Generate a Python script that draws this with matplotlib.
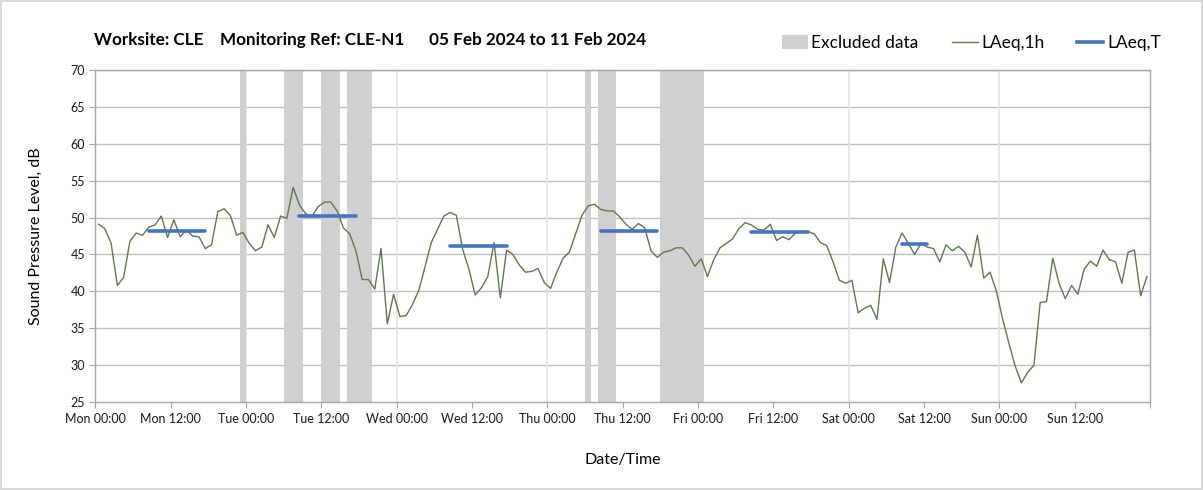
import numpy as np
import matplotlib
matplotlib.use("Agg")
import matplotlib.pyplot as plt
from matplotlib.patches import Patch
from matplotlib.lines import Line2D

# hourly LAeq,1h values, Mon 00:00 .. Sun 23:00
laeq_1h = [
    49.1, 48.5, 46.5, 40.8, 41.9, 46.8, 47.9, 47.6, 48.7, 49.0,
    50.2, 47.3, 49.7, 47.4, 48.3, 47.5, 47.4, 45.8, 46.3, 50.8,
    51.2, 50.3, 47.6, 48.0, 46.5, 45.5, 46.0, 49.0, 47.3, 50.2,
    49.9, 54.1, 51.7, 50.5, 50.2, 51.5, 52.1, 52.1, 50.9, 48.6,
    47.8, 45.5, 41.6, 41.6, 40.3, 45.8, 35.6, 39.6, 36.6, 36.7,
    38.2, 40.1, 43.3, 46.6, 48.4, 50.2, 50.7, 50.3, 45.7, 43.0,
    39.5, 40.5, 42.0, 46.6, 39.1, 45.6, 45.0, 43.6, 42.6, 42.7,
    43.1, 41.2, 40.4, 42.6, 44.5, 45.3, 47.8, 50.3, 51.6, 51.8,
    51.1, 50.9, 50.9, 50.1, 49.1, 48.4, 49.2, 48.6, 45.5, 44.6,
    45.3, 45.5, 45.9, 45.9, 44.9, 43.4, 44.4, 42.0, 44.3, 45.9,
    46.5, 47.1, 48.5, 49.3, 49.0, 48.4, 48.3, 49.1, 46.9, 47.4,
    47.0, 47.9, 48.1, 48.1, 47.8, 46.6, 46.2, 44.0, 41.5, 41.1,
    41.5, 37.1, 37.7, 38.1, 36.2, 44.4, 41.2, 46.0, 47.9, 46.5,
    45.0, 46.5, 46.0, 45.8, 44.0, 46.3, 45.5, 46.1, 45.3, 43.3,
    47.6, 41.8, 42.6, 40.1, 36.3, 33.0, 29.9, 27.6, 29.0, 30.0,
    38.5, 38.6, 44.5, 41.1, 39.0, 40.8, 39.6, 43.0, 44.1, 43.4,
    45.6, 44.3, 44.0, 41.1, 45.3, 45.6, 39.4, 42.0,
]

# excluded periods (hours from Mon 00:00)
excl_start = [23, 30, 36, 40, 78, 80, 90]
excl_end = [24, 33, 39, 44, 79, 83, 97]

# daytime LAeq,T periods (first and last hour index) and level
laeqt_first = [8, 32, 56, 80, 104, 128]
laeqt_last = [17, 41, 65, 89, 113, 132]
laeqt_value = [48.2, 50.2, 46.1, 48.2, 48.1, 46.4]

days = ["Mon", "Tue", "Wed", "Thu", "Fri", "Sat", "Sun"]

plt.rcParams['font.family'] = ['Lato', 'DejaVu Sans']

fig = plt.figure(figsize=(12.03, 4.9), dpi=100)
fig.patch.set_edgecolor("#D9D9D9")
fig.patch.set_linewidth(1.5)
ax = fig.add_axes([0.0793, 0.1796, 0.8767, 0.6775])

green = "#5E7A4C"
blue = "#4472C4"
grey = "#D0D0D0"

for s, e in zip(excl_start, excl_end):
    ax.axvspan(s, e, color=grey, lw=0, zorder=1)

hours = np.arange(len(laeq_1h)) + 0.5
ax.plot(hours, laeq_1h, color=green, lw=1.0, zorder=3)

for f, l, v in zip(laeqt_first, laeqt_last, laeqt_value):
    ax.plot([f + 0.5, l + 0.5], [v, v], color=blue, lw=2.6,
            solid_capstyle="round", zorder=4)

ax.set_xlim(0, 168)
ax.set_ylim(25, 70)
ax.set_yticks(np.arange(25, 71, 5))
ax.set_xticks(np.arange(0, 169, 12))
labels = []
for d in days:
    labels += [d + " 00:00", d + " 12:00"]
labels.append("")
ax.set_xticklabels(labels)

# gridlines: horizontal every 5 dB, vertical at midnight
for y in np.arange(30, 71, 5):
    ax.axhline(y, color="#BFBFBF", lw=1.0, zorder=0)
for x in range(24, 168, 24):
    ax.axvline(x, color="#E3E3E3", lw=1.2, zorder=0)

for sp in ax.spines.values():
    sp.set_color("#A6A6A6")
    sp.set_linewidth(1.0)
ax.tick_params(axis="both", colors="#A6A6A6", labelcolor="#1A1A1A",
               labelsize=9, length=4, direction="out")
ax.tick_params(axis="x", pad=4)

ax.set_ylabel("Sound Pressure Level, dB", fontsize=11.5, labelpad=20)
ax.set_xlabel("Date/Time", fontsize=11.5, labelpad=20)

fig.text(0.078, 0.918,
         "Worksite: CLE    Monitoring Ref: CLE-N1      05 Feb 2024 to 11 Feb 2024",
         fontsize=12.3, fontweight="bold", va="center", ha="left")

handles = [Patch(facecolor=grey, edgecolor="none", label="Excluded data"),
           Line2D([], [], color=green, lw=1.0, label="LAeq,1h"),
           Line2D([], [], color=blue, lw=2.6, label="LAeq,T")]
fig.legend(handles=handles, loc="center right", bbox_to_anchor=(0.972, 0.912),
           ncol=3, frameon=False, fontsize=12.5, handlelength=1.5,
           handleheight=0.9, handletextpad=0.2, columnspacing=1.9,
           borderpad=0.0)

fig.savefig("out.png", dpi=100)
